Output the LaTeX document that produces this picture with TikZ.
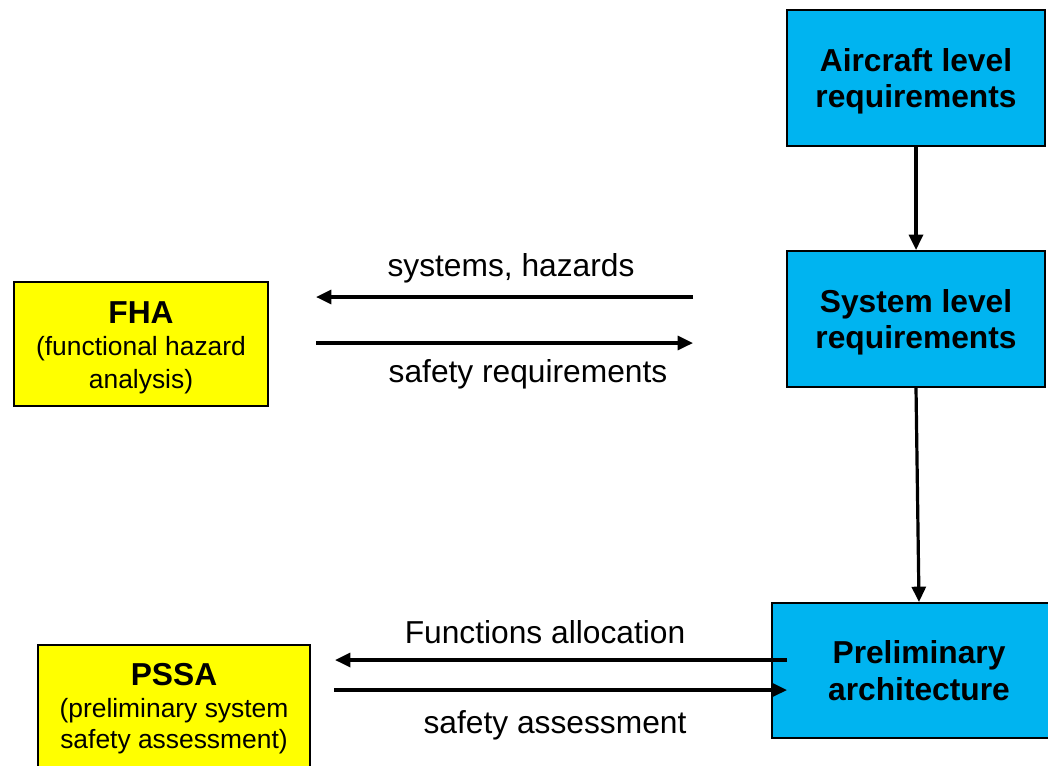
\documentclass[tikz,border=0pt]{standalone}
\usepackage{fontspec}
\setmainfont{Liberation Sans}
\usetikzlibrary{arrows.meta}
\definecolor{boxblue}{RGB}{0,180,240}
\definecolor{boxyellow}{RGB}{255,255,0}
\begin{document}
\begin{tikzpicture}[x=0.75pt,y=-0.75pt,
  box/.style={draw=black, line width=1.5pt, inner sep=0pt},
  bluebox/.style={box, fill=boxblue, minimum width=193.5pt, minimum height=102pt},
  yellowbox/.style={box, fill=boxyellow},
  title/.style={anchor=base, inner sep=0pt, font=\bfseries\fontsize{23.8}{28}\selectfont},
  sub/.style={anchor=base, inner sep=0pt, font=\fontsize{19.8}{24}\selectfont},
  lbl/.style={anchor=base, inner sep=0pt, font=\fontsize{23.8}{28}\selectfont},
  arr/.style={line width=2.4pt, -{Triangle[length=11.5pt,width=10.5pt]}}
]
\useasboundingbox (0,0) rectangle (1048,765);
% blue boxes
\node[bluebox] (acl) at (916,78) {};
\node[title] (acl1) at (916,71) {Aircraft level};
\node[title] (acl2) at (916,107) {requirements};
\node[bluebox] (slr) at (916,319) {};
\node[title] (slr1) at (916,312) {System level};
\node[title] (slr2) at (916,348) {requirements};
\node[box, fill=boxblue, minimum width=220.5pt, minimum height=101.25pt] (pa) at (919,670.5) {};
\node[title] (pa1) at (919,663) {Preliminary};
\node[title] (pa2) at (919,700) {architecture};
% yellow boxes
\node[yellowbox, minimum width=190.5pt, minimum height=93pt] (fha) at (141,344) {};
\node[title] (fha1) at (141,323) {FHA};
\node[sub] (fha2) at (141,355) {(functional hazard};
\node[sub] (fha3) at (141,388) {analysis)};
\node[yellowbox, minimum width=204pt, minimum height=93pt] (pssa) at (174,707) {};
\node[title] (pssa1) at (174,685) {PSSA};
\node[sub] (pssa2) at (174,717) {(preliminary system};
\node[sub] (pssa3) at (174,748) {safety assessment)};
% vertical arrows
\draw[arr] (acl.south) -- (slr.north);
\draw[arr] (slr.south) -- (pa.north);
% FHA arrows
\coordinate (sh1) at (693,297);
\coordinate (sh2) at (316,297);
\draw[arr] (sh1) -- (sh2);
\coordinate (sr1) at (316,343);
\coordinate (sr2) at (693,343);
\draw[arr] (sr1) -- (sr2);
\node[lbl] (shl) at (511,276) {systems, hazards};
\node[lbl] (srl) at (528,382) {safety requirements};
% PSSA arrows
\coordinate (fa1) at (787,660);
\coordinate (fa2) at (335,660);
\draw[arr] (fa1) -- (fa2);
\coordinate (sa1) at (334,690);
\coordinate (sa2) at (787,690);
\draw[arr] (sa1) -- (sa2);
\node[lbl] (fal) at (545,643) {Functions allocation};
\node[lbl] (sal) at (555,733) {safety assessment};
\end{tikzpicture}
\end{document}
